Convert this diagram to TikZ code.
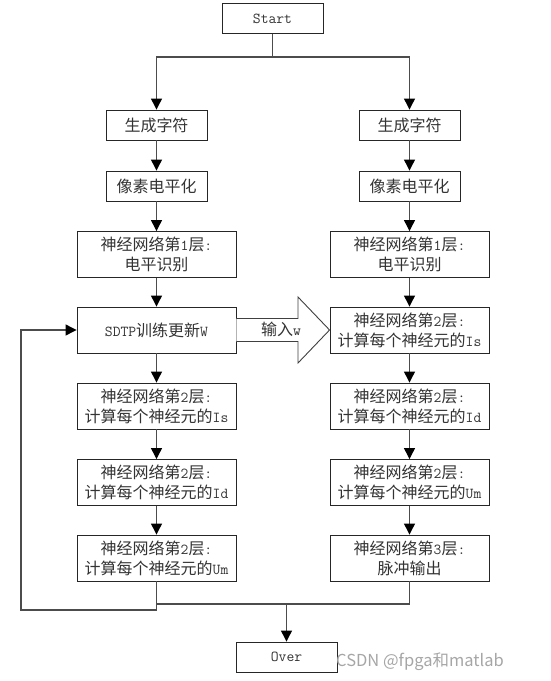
\documentclass[tikz,border=0pt]{standalone}
\usepackage{fontspec}
\setmainfont{Noto Sans CJK SC}
\setmonofont{Latin Modern Mono}[Scale=0.95]
\newcommand\lat{\ttfamily}
\usetikzlibrary{arrows.meta,calc}
\begin{document}
\begin{tikzpicture}[x=1pt,y=-1pt,
  box/.style={draw=black!85, line width=0.9pt, rectangle, inner sep=0pt, text=black!80, font=\fontsize{16}{20}\selectfont, align=center},
  sbox/.style={box, minimum width=101pt, minimum height=30pt},
  wbox/.style={box, minimum width=159pt, minimum height=46pt},
  conn/.style={draw=black!70, line width=1.2pt},
  arr/.style={conn, -{Triangle[width=11pt,length=11pt,fill=black,color=black]}},
  bigarrow/.style={draw=black!75, line width=0.9pt, fill=white},
]
\useasboundingbox (0,0) rectangle (550,681);
% boxes
\node[sbox] (start) at (272.5,18.5) {\lat Start};
\node[sbox] (l1) at (156.5,125) {生成字符};
\node[sbox] (r1) at (409.5,125) {生成字符};
\node[sbox] (l2) at (156.5,186) {像素电平化};
\node[sbox] (r2) at (409.5,186) {像素电平化};
\node[wbox] (l3) at (156.5,254.5) {神经网络第{\lat 1}层{\lat :}\\电平识别};
\node[wbox] (r3) at (409.5,254.5) {神经网络第{\lat 1}层{\lat :}\\电平识别};
\node[wbox] (l4) at (156.5,330) {{\lat SDTP}训练更新{\lat W}};
\node[wbox] (r4) at (409.5,330) {神经网络第{\lat 2}层{\lat :}\\计算每个神经元的{\lat Is}};
\node[wbox] (l5) at (156.5,406) {神经网络第{\lat 2}层{\lat :}\\计算每个神经元的{\lat Is}};
\node[wbox] (r5) at (409.5,406) {神经网络第{\lat 2}层{\lat :}\\计算每个神经元的{\lat Id}};
\node[wbox] (l6) at (156.5,482.5) {神经网络第{\lat 2}层{\lat :}\\计算每个神经元的{\lat Id}};
\node[wbox] (r6) at (409.5,482.5) {神经网络第{\lat 2}层{\lat :}\\计算每个神经元的{\lat Um}};
\node[wbox] (l7) at (156.5,558) {神经网络第{\lat 2}层{\lat :}\\计算每个神经元的{\lat Um}};
\node[wbox] (r7) at (409.5,558) {神经网络第{\lat 3}层{\lat :}\\脉冲输出};
\node[sbox] (over) at (286.5,657) {\lat Over};
% start split
\coordinate (split) at (272.5,57);
\draw[conn] (start.south) -- (split);
\draw[arr] (split) -| (l1.north);
\draw[arr] (split) -| (r1.north);
% column arrows
\foreach \a/\b in {l1/l2,l2/l3,l3/l4,l4/l5,l5/l6,l6/l7,r1/r2,r2/r3,r3/r4,r4/r5,r5/r6,r6/r7}
  \draw[arr] (\a.south) -- (\b.north);
% big hollow arrow
\draw[bigarrow] ($(l4.east)+(0,-11.5)$) -- (298,318.5) -- (298,297) -- (r4.west)
   -- (298,363) -- (298,341.5) -- ($(l4.east)+(0,11.5)$);
\node[text=black!80, font=\fontsize{16}{20}\selectfont] (inw) at (281,329) {输入{\lat w}};
% feedback loop
\coordinate (fb1) at (156.5,610);
\coordinate (fb2) at (21,610);
\coordinate (fb3) at (21,330);
\draw[arr] (l7.south) -- (fb1) -- (fb2) -- (fb3) -- (l4.west);
% merge to over
\coordinate (ml) at (156.5,604);
\coordinate (mr) at (409.5,604);
\coordinate (mo) at (286.5,604);
\draw[conn] (ml) -- (mr) -- (r7.south);
\draw[arr] (mo) -- (over.north);
% watermark
\node[text=black!35, font=\fontsize{16.5}{16.5}\selectfont, anchor=west, inner sep=0pt] (wm) at (336,662) {CSDN @fpga和matlab};
\end{tikzpicture}
\end{document}
